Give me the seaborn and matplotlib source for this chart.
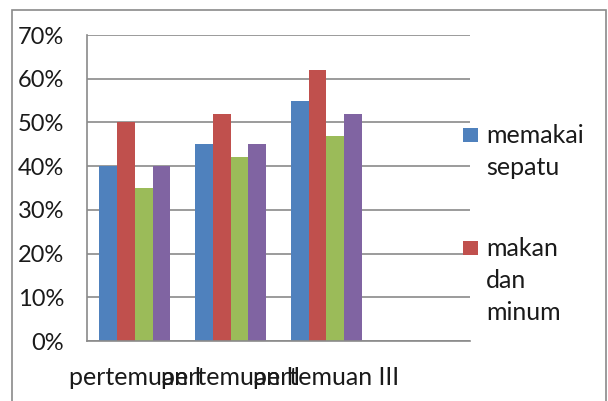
import matplotlib
matplotlib.use("Agg")
import matplotlib.pyplot as plt
import seaborn as sns
import pandas as pd
from matplotlib.patches import Rectangle

# Scores per session (percent)
sessions = ["pertemuan I", "pertemuan II", "pertemuan III"]
aspects = ["memakai sepatu", "makan dan minum", "memakai baju", "mencuci tangan"]
memakai_sepatu = [40, 45, 55]
makan_dan_minum = [50, 52, 62]
memakai_baju = [35, 42, 47]
mencuci_tangan = [40, 45, 52]
y_ticks = [0, 10, 20, 30, 40, 50, 60, 70]
colors = ["#4F81BD", "#C0504D", "#9BBB59", "#8064A2"]

series = [memakai_sepatu, makan_dan_minum, memakai_baju, mencuci_tangan]
df = pd.DataFrame(
    [(s, a, v) for a, vals in zip(aspects, series) for s, v in zip(sessions, vals)],
    columns=["pertemuan", "aspek", "nilai"],
)

sns.set_style("white")
plt.rcParams["font.family"] = ["Lato", "DejaVu Sans"]
FS = 18
FS_Y = 17
GRAY = "#8a8a8a"
TXT = "#1a1a1a"

W, H = 608, 401
fig = plt.figure(figsize=(W / 100, H / 100), dpi=100)
ax = fig.add_axes([87 / W, 1 - 341 / H, (470 - 87) / W, (341 - 35) / H])

sns.barplot(
    data=df, x="pertemuan", y="nilai", hue="aspek",
    order=sessions, hue_order=aspects, palette=colors,
    width=0.74, gap=0, saturation=1, linewidth=0, legend=False, ax=ax,
)

# four category slots, the last one left empty
n_slots = len(sessions) + 1
ax.set_xlim(-0.5, n_slots - 0.5)
ax.set_xticks([i - 0.5 for i in range(n_slots + 1)])
ax.set_xticklabels([])
ax.set_xticks(range(len(sessions)), minor=True)
ax.set_xticklabels(sessions, minor=True, fontsize=FS, color=TXT)
ax.tick_params(axis="x", which="major", direction="out", length=6, width=1.2, color=GRAY)
ax.tick_params(axis="x", which="minor", length=0, pad=18)

ax.set_ylim(0, 70)
ax.set_yticks(y_ticks)
ax.set_yticklabels([f"{v}%" for v in y_ticks], fontsize=FS_Y, color=TXT)
ax.tick_params(axis="y", direction="out", length=6.5, width=1.2, color=GRAY, pad=10)

ax.set_xlabel("")
ax.set_ylabel("")
ax.yaxis.grid(True, color=GRAY, linewidth=1.2)
ax.set_axisbelow(True)
for side in ("top", "right"):
    ax.spines[side].set_visible(False)
for side in ("left", "bottom"):
    ax.spines[side].set_color(GRAY)
    ax.spines[side].set_linewidth(1.2)

# chart area frame
fig.add_artist(Rectangle((12 / W, -0.1), (606 - 12) / W, 1 - 10 / H + 0.1,
                         transform=fig.transFigure, fill=False,
                         edgecolor=GRAY, linewidth=1.2))

# legend (first two entries fit in the frame)
box_tops = [128, 241]
for name, col, top in zip(aspects[:2], colors[:2], box_tops):
    fig.add_artist(Rectangle((463 / W, 1 - (top + 14) / H), 15 / W, 14 / H,
                             transform=fig.transFigure, facecolor=col,
                             edgecolor="none"))
    for k, word in enumerate(name.split()):
        fig.text(486 / W, 1 - (top + 15 + 32 * k) / H, word, fontsize=FS,
                 color=TXT, ha="left", va="baseline")

fig.savefig("out.png", dpi=100)
